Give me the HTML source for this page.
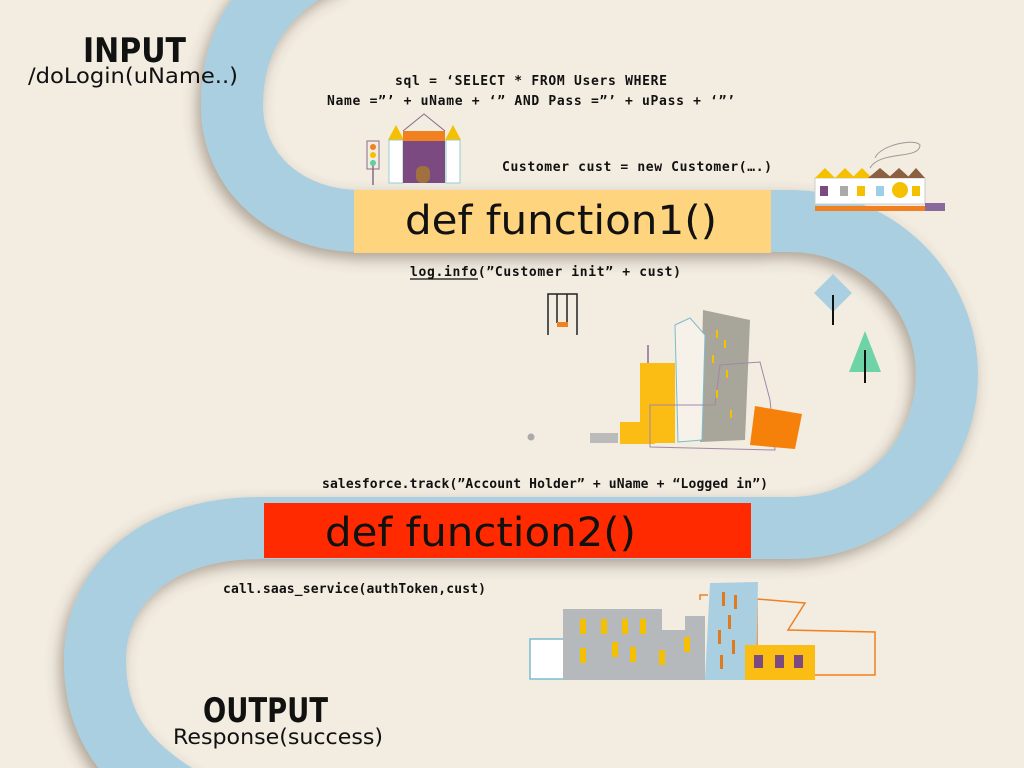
<!DOCTYPE html>
<html><head><meta charset="utf-8"><style>
html,body{margin:0;padding:0;background:#f2ece1;}
svg{display:block}
text{font-family:"DejaVu Sans","Liberation Sans",sans-serif;fill:#111}
.c{font-family:"DejaVu Sans Mono","Liberation Mono",monospace;font-weight:bold;font-size:13px}
</style></head><body>
<svg width="1024" height="768" viewBox="0 0 1024 768" xmlns="http://www.w3.org/2000/svg">
<defs>
<filter id="sh" x="-20%" y="-20%" width="140%" height="140%">
<feDropShadow dx="-4" dy="6" stdDeviation="7" flood-color="#5a4a3a" flood-opacity="0.45"/>
</filter>
</defs>
<rect width="1024" height="768" fill="#f2ece1"/>
<g filter="url(#sh)">
<path d="M 340 -45 C 260 -15 232 45 232 105 C 232 175 290 221 360 221 L 790 221 A 157 153.5 0 0 1 790 528 L 260 528 C 150 528 95 590 95 660 C 95 725 125 765 185 800"
 fill="none" stroke="#a9cfe1" stroke-width="62"/>
<rect x="354" y="190" width="417" height="63" fill="#fed47e"/>
<rect x="264" y="503" width="487" height="55" fill="#ff2a00"/>
</g>
<text x="405" y="234" font-size="40" textLength="312" lengthAdjust="spacingAndGlyphs" font-family="DejaVu Sans Mono,monospace">def function1()</text>
<text x="325" y="546" font-size="40" textLength="311" lengthAdjust="spacingAndGlyphs" font-family="DejaVu Sans Mono,monospace">def function2()</text>

<text x="83" y="62" font-size="34" font-weight="bold" textLength="103" lengthAdjust="spacingAndGlyphs">INPUT</text>
<text x="28" y="83" font-size="21" textLength="210" lengthAdjust="spacingAndGlyphs">/doLogin(uName..)</text>
<text x="203" y="722" font-size="34" font-weight="bold" textLength="125" lengthAdjust="spacingAndGlyphs">OUTPUT</text>
<text x="173" y="744" font-size="21" textLength="210" lengthAdjust="spacingAndGlyphs">Response(success)</text>

<text class="c" x="395" y="85" textLength="272">sql = ‘SELECT * FROM Users WHERE</text>
<text class="c" x="327" y="105" textLength="408">Name =”’ + uName + ‘” AND Pass =”’ + uPass + ‘”’</text>
<text class="c" x="502" y="171" textLength="270">Customer cust = new Customer(….)</text>
<text class="c" x="410" y="276" textLength="271">log.info(”Customer init” + cust)</text>
<line x1="410" y1="279" x2="478" y2="279" stroke="#111" stroke-width="1.2"/>
<text class="c" x="322" y="488" textLength="446">salesforce.track(”Account Holder” + uName + “Logged in”)</text>
<text class="c" x="223" y="593" textLength="263">call.saas_service(authToken,cust)</text>

<!-- castle -->
<g>
<line x1="373" y1="160" x2="373" y2="185" stroke="#8a6a8a" stroke-width="1.5"/>
<rect x="367" y="141" width="12" height="28" fill="none" stroke="#8a6a8a"/>
<circle cx="373" cy="147" r="3" fill="#f08020"/><circle cx="373" cy="155" r="3" fill="#f5c000"/><circle cx="373" cy="163" r="3" fill="#60d0a0"/>
<polyline points="403,131 424,114 445,131" fill="none" stroke="#8a6a8a"/>
<polygon points="388,140 396,125 404,140" fill="#f5c000"/><polygon points="445,140 453,125 461,140" fill="#f5c000"/>
<rect x="389" y="140" width="14" height="43" fill="#fff" stroke="#9cc"/>
<rect x="446" y="140" width="14" height="43" fill="#fff" stroke="#9cc"/>
<rect x="403" y="131" width="42" height="10" fill="#f08020"/>
<rect x="403" y="141" width="42" height="42" fill="#7a4a80"/>
<rect x="416" y="166" width="14" height="17" rx="6" fill="#a07040"/>
</g>
<!-- houses right top -->
<g>
<rect x="815" y="178" width="110" height="26" fill="#fff" stroke="#ccc"/>
<polygon points="815,178 825,168 835,178" fill="#f5c000"/><polygon points="835,178 845,168 855,178" fill="#f5c000"/><polygon points="852,178 862,168 872,178" fill="#f5c000"/>
<polygon points="868,178 880,168 892,178" fill="#8a6040"/><polygon points="888,178 899,168 910,178" fill="#8a6040"/><polygon points="907,178 916,168 925,178" fill="#8a6040"/>
<rect x="820" y="186" width="8" height="10" fill="#7a4a80"/><rect x="840" y="186" width="8" height="10" fill="#aaa"/><rect x="857" y="186" width="8" height="10" fill="#f5c000"/><rect x="876" y="186" width="8" height="10" fill="#9cd0e8"/><circle cx="900" cy="190" r="8" fill="#f5c000"/><rect x="912" y="186" width="8" height="10" fill="#f5c000"/>
<rect x="815" y="206" width="110" height="5" fill="#f08020"/>
<rect x="925" y="203" width="20" height="8" fill="#8a6a9a"/>
<path d="M870 168 C880 150 920 160 920 145 C915 138 880 145 875 158" fill="none" stroke="#999"/>
</g>
<polygon points="833,274 852,293 833,312 814,293" fill="#a9cfe1"/>
<line x1="833" y1="295" x2="833" y2="325" stroke="#111" stroke-width="2"/>
<polygon points="865,331 881,372 849,372" fill="#6fd3a8"/>
<line x1="865" y1="350" x2="865" y2="383" stroke="#111" stroke-width="2"/>
<g stroke="#222" stroke-width="1.5" fill="none">
<polyline points="548,335 548,294 577,294 577,335"/><line x1="557" y1="294" x2="557" y2="323"/><line x1="567" y1="294" x2="567" y2="323"/>
</g>
<rect x="557" y="322" width="11" height="5" fill="#f08020"/>
<circle cx="531" cy="437" r="3.5" fill="#aaa"/>
<g>
<rect x="590" y="433" width="28" height="10" fill="#bbb"/>
<polygon points="703,310 750,320 745,440 700,442" fill="#a8a69a"/>
<polygon points="675,325 690,318 705,335 702,440 678,442" fill="#f6f2ea" stroke="#7bbccc"/>
<rect x="640" y="363" width="35" height="80" fill="#fbbc14"/>
<rect x="620" y="422" width="35" height="22" fill="#fbbc14"/>
<polygon points="720,365 760,362 770,400 775,450 650,447 650,405 715,405" fill="none" stroke="#a088a8"/>
<polygon points="755,406 802,414 795,449 750,445" fill="#f5800a"/>
<g fill="#f5c000"><rect x="716" y="330" width="2" height="8"/><rect x="724" y="340" width="2" height="8"/><rect x="712" y="355" width="2" height="8"/><rect x="726" y="370" width="2" height="8"/><rect x="716" y="390" width="2" height="8"/><rect x="730" y="410" width="2" height="8"/></g>
<line x1="648" y1="363" x2="648" y2="345" stroke="#8a6a9a" stroke-width="1.5"/>
</g>
<g>
<rect x="530" y="639" width="50" height="40" fill="#fff" stroke="#7bbccc" stroke-width="1.5"/>
<polygon points="563,609 662,609 662,630 685,630 685,616 705,616 705,680 563,680" fill="#b6b9bc"/>
<polyline points="700,600 700,595 708,595" fill="none" stroke="#f08020" stroke-width="1.5"/>
<polygon points="757,599 805,603 788,630 875,632 875,675 757,675" fill="none" stroke="#f08020" stroke-width="1.5"/>
<polygon points="710,583 758,582 756,680 705,680" fill="#a9cfe1"/>
<rect x="745" y="645" width="70" height="35" fill="#fbbc14"/>
<g fill="#7a4a80"><rect x="754" y="655" width="9" height="13"/><rect x="775" y="655" width="9" height="13"/><rect x="794" y="655" width="9" height="13"/></g>
<g fill="#f5c000"><rect x="580" y="619" width="6" height="15"/><rect x="601" y="619" width="6" height="15"/><rect x="622" y="619" width="6" height="15"/><rect x="640" y="619" width="6" height="15"/><rect x="612" y="642" width="6" height="15"/><rect x="630" y="647" width="6" height="15"/><rect x="659" y="650" width="6" height="15"/><rect x="684" y="637" width="6" height="15"/><rect x="580" y="648" width="6" height="15"/></g>
<g fill="#e07a20"><rect x="722" y="592" width="3" height="14"/><rect x="734" y="595" width="3" height="14"/><rect x="728" y="615" width="3" height="14"/><rect x="718" y="630" width="3" height="14"/><rect x="732" y="640" width="3" height="14"/><rect x="720" y="655" width="3" height="14"/></g>
</g>
</svg>
</body></html>
